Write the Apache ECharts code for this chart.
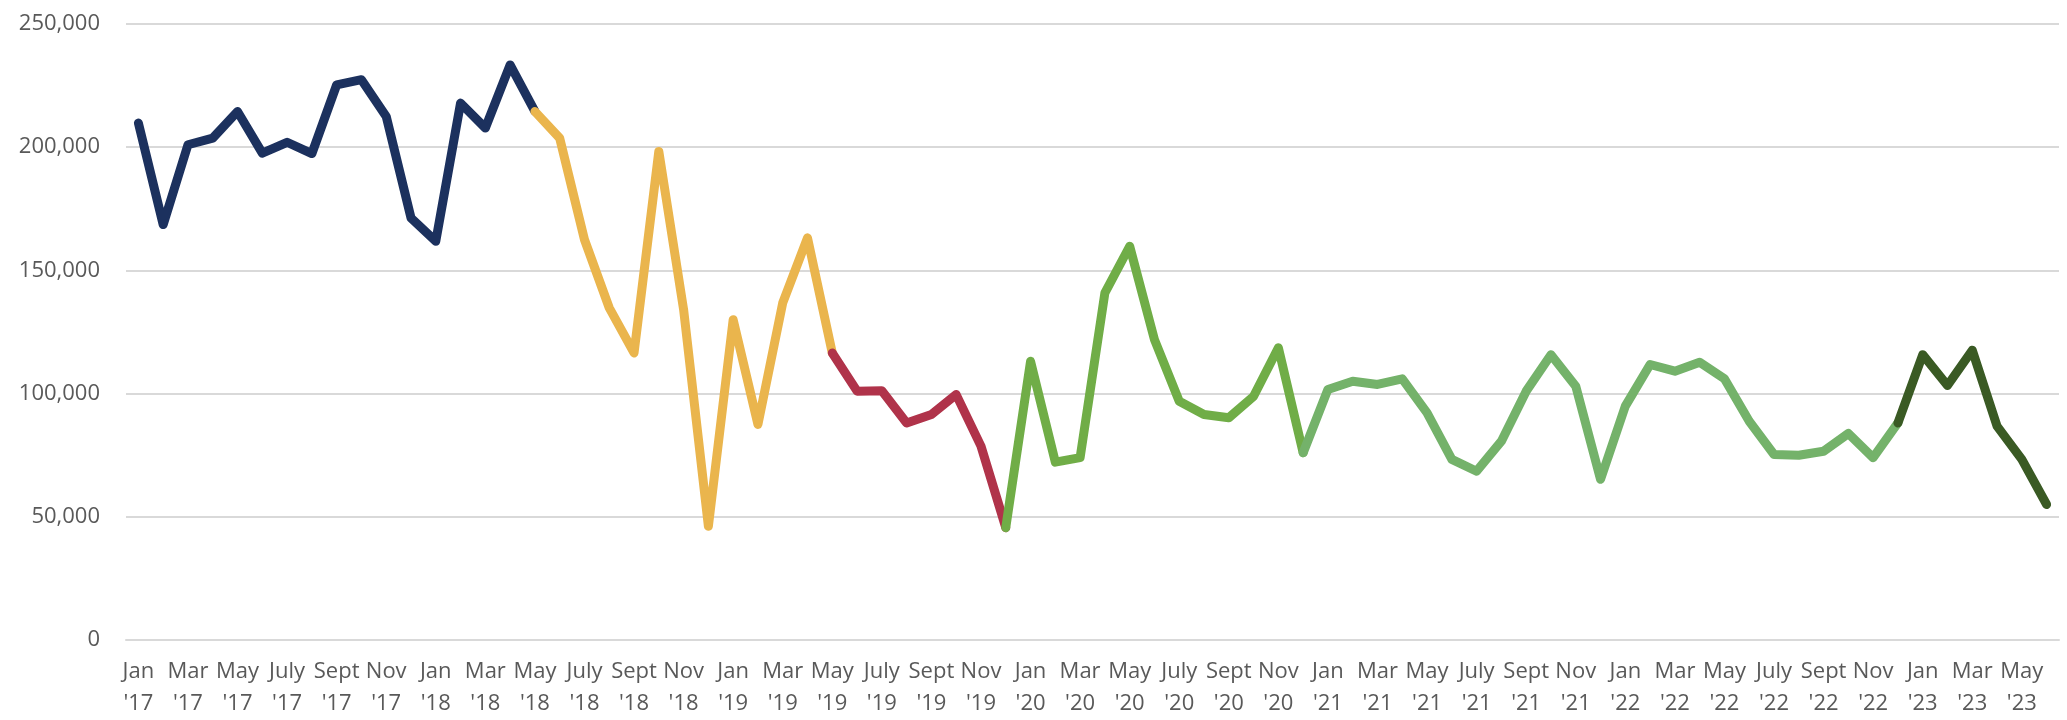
<!DOCTYPE html>
<html lang="en">
<head>
    <meta charset="UTF-8">
    <title>Monthly totals</title>
    <script src="https://cdn.jsdelivr.net/npm/echarts@6/dist/echarts.min.js"></script>
    <style>
        html, body { margin: 0; padding: 0; background: #fff; }
        #chart { width: 2067px; height: 720px; }
    </style>
</head>
<body>
    <div id="chart"></div>
    <script>
        // month labels and years for the category axis
        const monthNames = ['Jan', 'Feb', 'Mar', 'Apr', 'May', 'June', 'July', 'Aug', 'Sept', 'Oct', 'Nov', 'Dec'];
        const years = ['17', '18', '19', '20', '21', '22', '23'];

        // monthly values
        const v2017 = [209800, 168600, 201000, 203700, 214500, 197600, 202000, 197400, 225300, 227400, 212500, 171300];
        const v2018 = [161800, 217900, 207800, 233400, 214500, 203700, 162500, 134800, 116500, 198300, 134100, 46200];
        const v2019 = [130000, 87500, 136800, 163200, 116500, 101000, 101200, 88100, 91500, 99600, 78700, 45600];
        const v2020 = [113100, 72200, 74000, 140900, 159800, 121900, 96900, 91500, 90200, 98900, 118600, 76000];
        const v2021 = [101700, 105000, 103700, 106000, 92200, 73300, 68500, 80700, 101000, 115800, 103000, 65200];
        const v2022 = [94900, 111800, 109100, 112700, 106000, 88800, 75300, 75000, 76600, 83800, 74000, 88100];
        const v2023 = [115800, 103300, 117600, 86800, 73300, 55000];

        // colour changes: each segment runs from one break index to the next
        const segmentBreaks = [0, 16, 28, 35, 47, 71, 77];
        const segmentColors = ['#1c315e', '#eab54d', '#b0334a', '#70ad47', '#74b26a', '#3a5a24'];

        const values = [].concat(v2017, v2018, v2019, v2020, v2021, v2022, v2023);
        const categories = values.map((v, i) => monthNames[i % 12] + "\n'" + years[Math.floor(i / 12)]);

        let series = [];
        for (let s = 0; s < segmentColors.length; s++) {
            let a = segmentBreaks[s], b = segmentBreaks[s + 1];
            series.push({
                type: 'line',
                data: values.map((v, i) => (i >= a && i <= b) ? v : null),
                symbol: 'none',
                connectNulls: false,
                lineStyle: { color: segmentColors[s], width: 9, cap: 'round', join: 'round' },
                itemStyle: { color: segmentColors[s] },
                z: 2 + s,
                animation: false
            });
        }

        const option = {
            backgroundColor: '#fff',
            textStyle: { fontFamily: '"Open Sans", "Noto Sans", sans-serif' },
            grid: { left: 126, right: 8, top: 24, bottom: 79, containLabel: false },
            xAxis: {
                type: 'category',
                data: categories,
                boundaryGap: true,
                axisLine: { show: true, lineStyle: { color: '#d9d9d9', width: 2 } },
                axisTick: { show: false },
                axisLabel: {
                    interval: 1,
                    color: '#595959',
                    fontSize: 22,
                    lineHeight: 32,
                    margin: 16
                }
            },
            yAxis: {
                type: 'value',
                min: 0,
                max: 250000,
                interval: 50000,
                axisLine: { show: false },
                axisTick: { show: false },
                splitLine: { lineStyle: { color: '#d9d9d9', width: 2 } },
                axisLabel: {
                    color: '#595959',
                    fontSize: 22,
                    margin: 26,
                    formatter: v => v.toLocaleString('en-US')
                }
            },
            series: series
        };

        let chart = echarts.init(document.getElementById('chart'));
        chart.setOption(option);
    </script>
</body>
</html>
